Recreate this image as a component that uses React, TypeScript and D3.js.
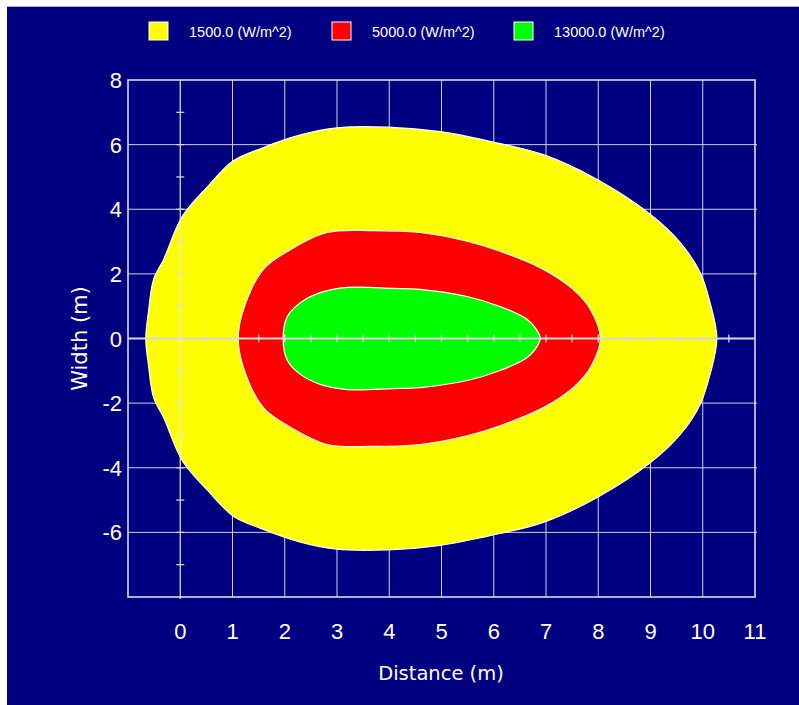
import React from "react";
import * as d3 from "d3";

const WIDTH = 799;
const HEIGHT = 705;

// Axis domains and tick labels
const xDomain: [number, number] = [-1, 11];
const yDomain: [number, number] = [-8, 8];
const xTickValues = [0, 1, 2, 3, 4, 5, 6, 7, 8, 9, 10, 11];
const yTickValues = [-6, -4, -2, 0, 2, 4, 6, 8];
const xGridValues = [1, 2, 3, 4, 5, 6, 7, 8, 9, 10];
const yGridValues = [-6, -4, -2, 2, 4, 6];

// Contour levels (legend)
const levelLabels = ["1500.0 (W/m^2)", "5000.0 (W/m^2)", "13000.0 (W/m^2)"];
const levelColors = ["#ffff00", "#ff0000", "#00ff00"];

// Upper half of each contour: downwind distance (m) and half-width (m); mirrored about y = 0
const contour1500Dist = [-0.66, -0.61, -0.51, -0.32, 0.04, 0.53, 1.01, 1.53, 2.3, 3.0, 3.98, 4.98, 5.99, 6.95, 7.98, 9.0, 9.57, 9.95, 10.14, 10.27];
const contour1500Half = [0, 0.8, 1.83, 2.44, 3.78, 4.71, 5.49, 5.87, 6.3, 6.52, 6.54, 6.4, 6.08, 5.69, 4.92, 3.84, 2.97, 2.04, 1.11, 0];

const contour5000Dist = [1.11, 1.21, 1.59, 2.11, 2.81, 3.64, 4.59, 5.49, 6.12, 6.95, 7.52, 7.85, 8.04];
const contour5000Half = [0, 0.9, 2.14, 2.75, 3.28, 3.34, 3.28, 3.01, 2.7, 2.14, 1.52, 0.9, 0];

const contour13000Dist = [1.97, 2.05, 2.3, 2.68, 3.2, 4.08, 4.59, 5.49, 6.12, 6.64, 6.85, 6.89];
const contour13000Half = [0, 0.68, 1.11, 1.42, 1.58, 1.55, 1.52, 1.3, 0.99, 0.59, 0.19, 0];

const contours = [
  { dist: contour1500Dist, half: contour1500Half, color: levelColors[0] },
  { dist: contour5000Dist, half: contour5000Half, color: levelColors[1] },
  { dist: contour13000Dist, half: contour13000Half, color: levelColors[2] },
];

const NAVY = "#000080";
const GRID = "#d0d0e0";

export default function App() {
  const x = d3.scaleLinear().domain(xDomain).range([128, 755]);
  const y = d3.scaleLinear().domain(yDomain).range([597, 80]);

  const line = d3
    .line<[number, number]>()
    .x((d) => x(d[0]))
    .y((d) => y(d[1]))
    .curve(d3.curveCatmullRomClosed.alpha(0.5));

  const outline = (dist: number[], half: number[]) => {
    const upper: [number, number][] = dist.map((d, i) => [d, half[i]]);
    const lower: [number, number][] = [];
    for (let i = dist.length - 2; i >= 1; i--) lower.push([dist[i], -half[i]]);
    return line([...upper, ...lower]) || "";
  };

  const minorX = d3.range(-0.5, 10.51, 0.5);
  const minorY = d3.range(-7, 7.01, 1);

  const legendX = [149, 332, 514];

  return (
    <svg
      width={WIDTH}
      height={HEIGHT}
      style={{ position: "absolute", left: 0, top: 0, display: "block" }}
      fontFamily="'Liberation Sans', Arial, sans-serif"
    >
      <rect x={0} y={0} width={WIDTH} height={HEIGHT} fill="#ffffff" />
      <rect x={7} y={7} width={WIDTH - 7} height={HEIGHT - 7} fill={NAVY} />
      <line x1={7} x2={WIDTH} y1={6.5} y2={6.5} stroke="#b0b0c8" strokeWidth={1} />

      {/* legend */}
      {levelLabels.map((lab, i) => (
        <g key={lab}>
          <rect x={legendX[i]} y={22} width={19} height={18} fill={levelColors[i]} stroke="#ffffff" strokeWidth={1} />
          <text x={legendX[i] + 40} y={37} fill="#ffffff" fontSize={14.5}>
            {lab}
          </text>
        </g>
      ))}

      {/* grid */}
      {xGridValues.map((v) => (
        <line key={"gx" + v} x1={x(v)} x2={x(v)} y1={y(8)} y2={y(-8)} stroke={GRID} strokeWidth={1} />
      ))}
      {yGridValues.map((v) => (
        <line key={"gy" + v} x1={x(-1)} x2={x(11) + 2} y1={y(v)} y2={y(v)} stroke={GRID} strokeWidth={1} />
      ))}
      <rect x={x(-1)} y={y(8)} width={x(11) - x(-1)} height={y(-8) - y(8)} fill="none" stroke="#e8e8f0" strokeWidth={1.5} />

      {/* contours */}
      {contours.map((c, i) => (
        <path key={"c" + i} d={outline(c.dist, c.half)} fill={c.color} stroke="#ffffff" strokeWidth={1.2} />
      ))}

      {/* centre axes with minor ticks */}
      <line x1={x(-1)} x2={x(11)} y1={y(0)} y2={y(0)} stroke="#d8d8d8" strokeWidth={2} />
      {minorX.map((v) => (
        <line key={"mx" + v} x1={x(v)} x2={x(v)} y1={y(0) - 4} y2={y(0) + 4} stroke="#e0e0e0" strokeWidth={1.2} />
      ))}
      <line x1={x(0)} x2={x(0)} y1={y(8)} y2={y(-8) + 2} stroke="#e8e8e8" strokeWidth={1.2} />
      {minorY.map((v) => (
        <line key={"my" + v} x1={x(0) - 4} x2={x(0) + 4} y1={y(v)} y2={y(v)} stroke="#e0e0e0" strokeWidth={1.2} />
      ))}

      {/* tick labels */}
      {xTickValues.map((v) => (
        <text key={"tx" + v} x={x(v)} y={639} fill="#ffffff" fontSize={22} textAnchor="middle">
          {v}
        </text>
      ))}
      {yTickValues.map((v) => (
        <text key={"ty" + v} x={122} y={y(v) + 8} fill="#ffffff" fontSize={22} textAnchor="end">
          {v}
        </text>
      ))}

      {/* axis titles */}
      <text x={441} y={680} fill="#ffffff" fontSize={19.5} textAnchor="middle" fontFamily="'DejaVu Sans', sans-serif">
        Distance (m)
      </text>
      <text
        transform={`translate(87, ${y(0)}) rotate(-90)`}
        fill="#ffffff"
        fontSize={21}
        textAnchor="middle"
        fontFamily="'DejaVu Sans', sans-serif"
      >
        Width (m)
      </text>
    </svg>
  );
}
